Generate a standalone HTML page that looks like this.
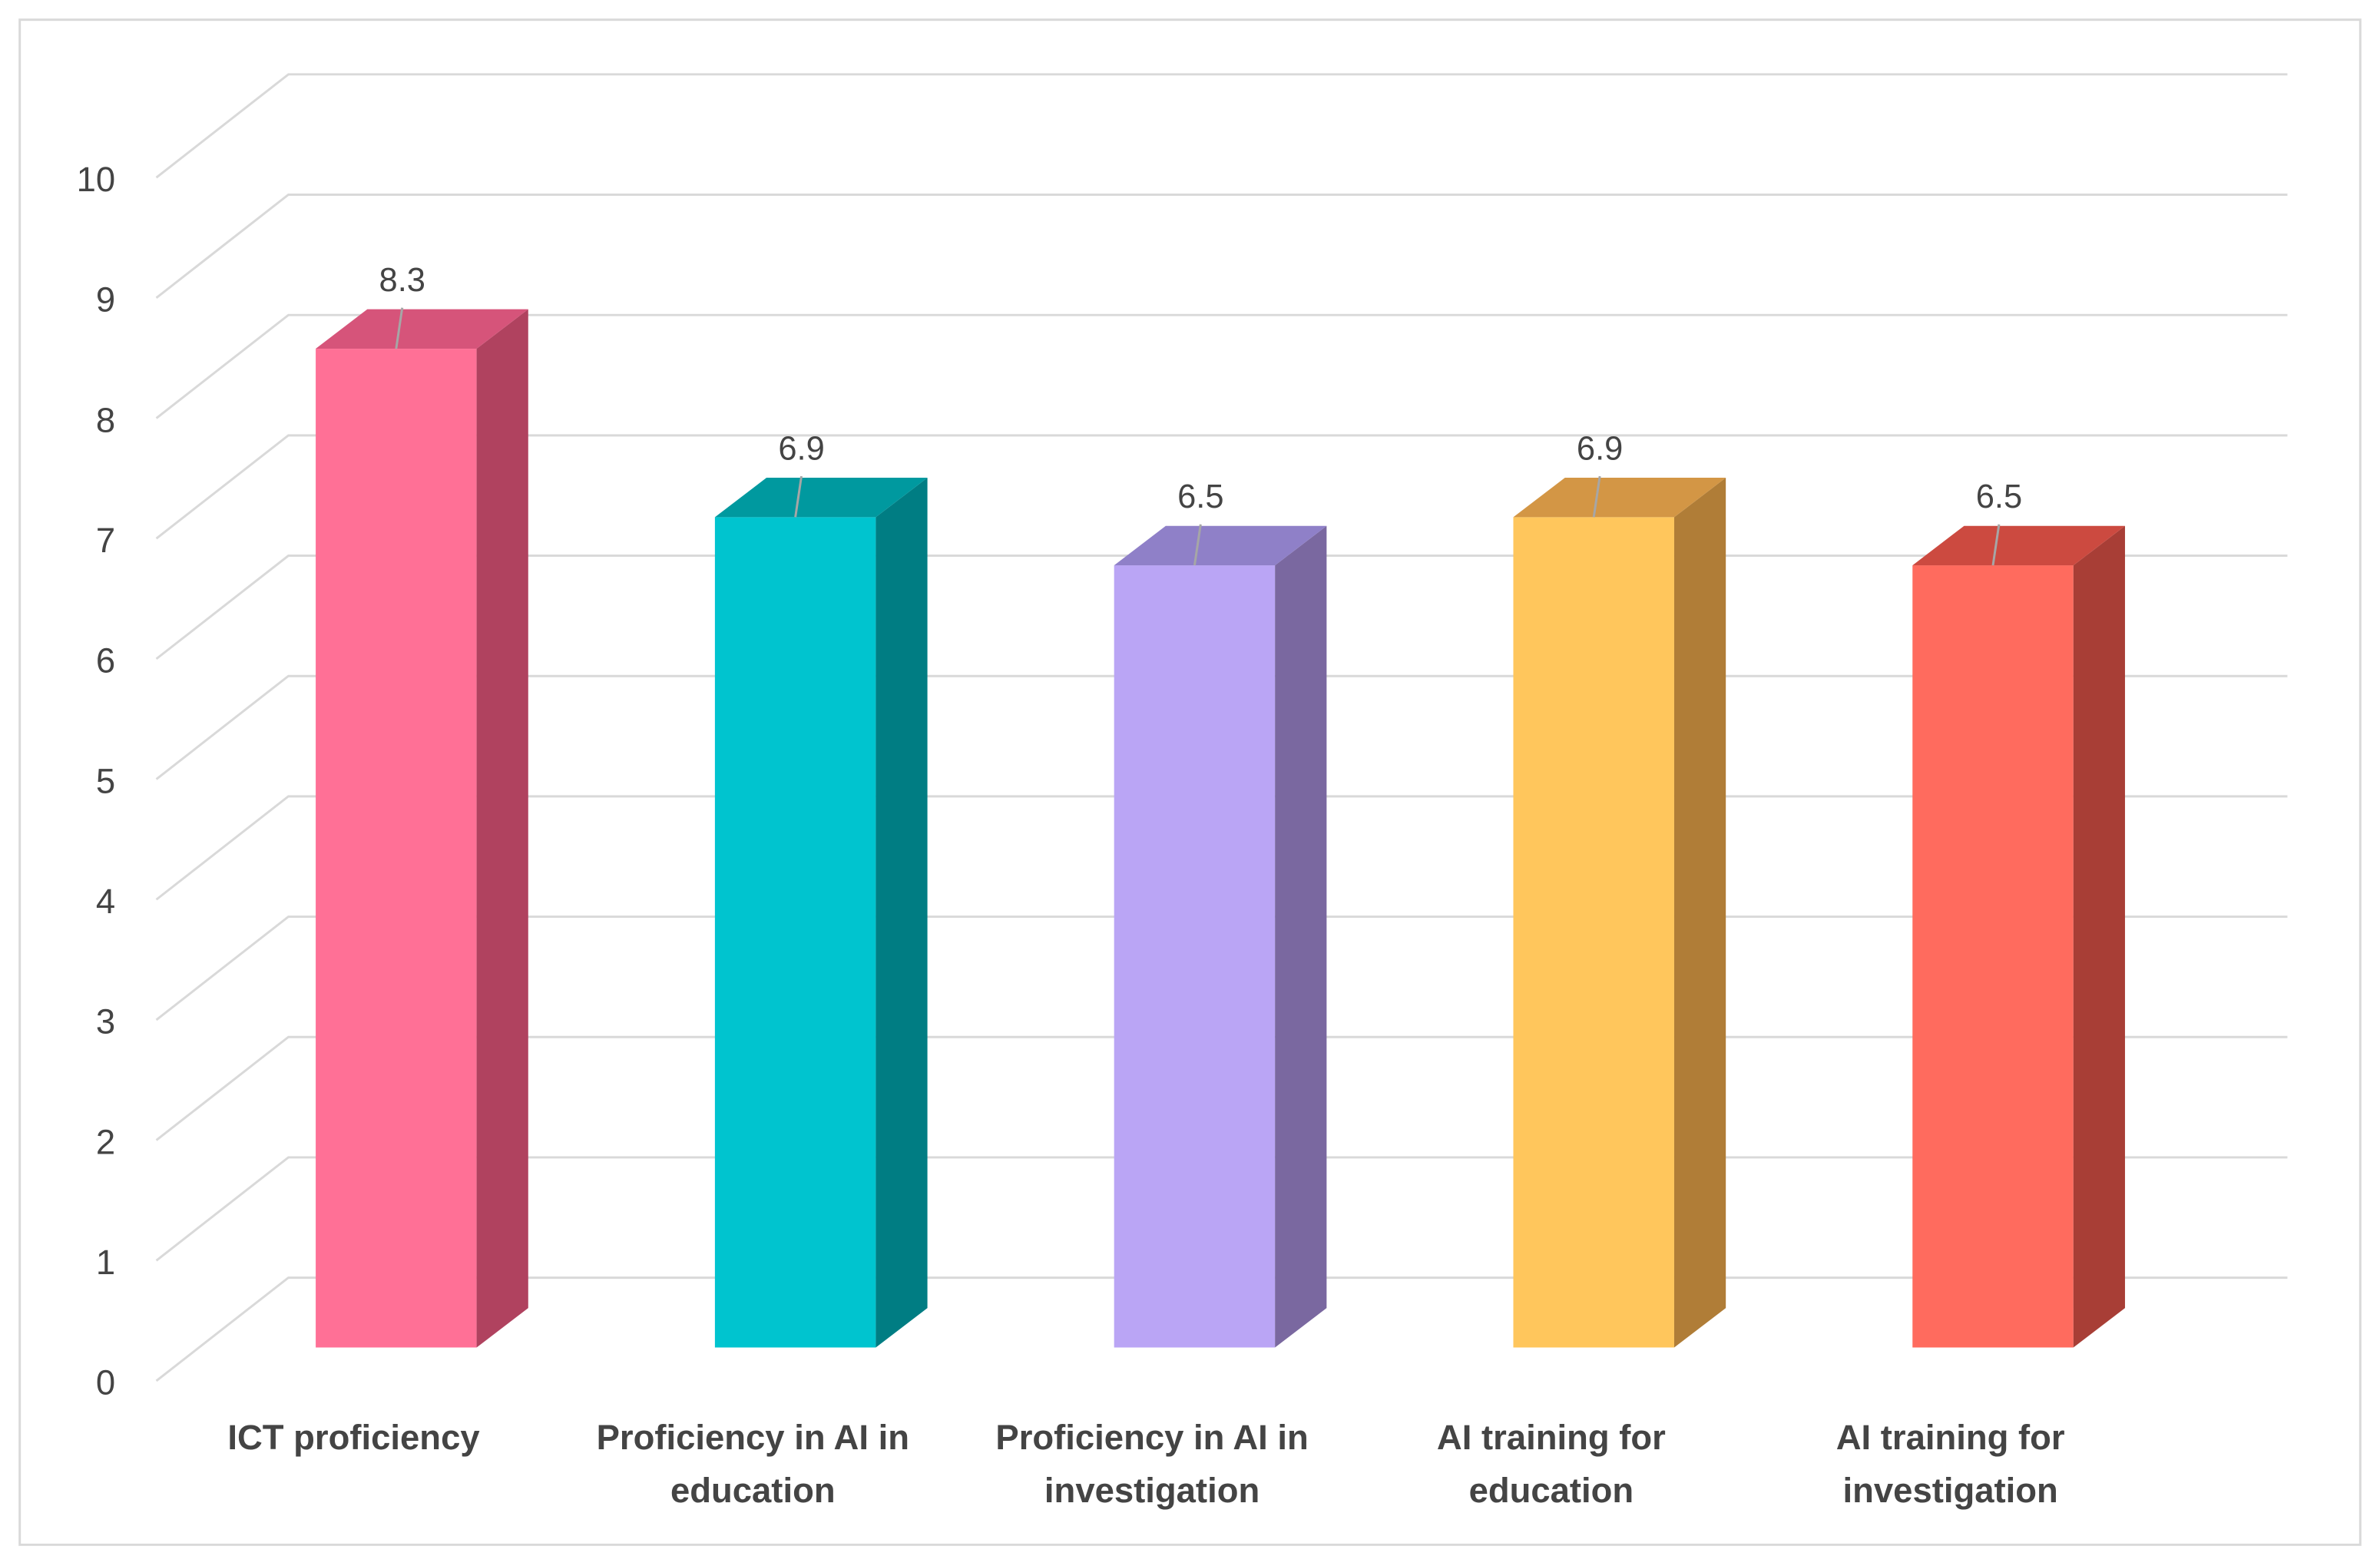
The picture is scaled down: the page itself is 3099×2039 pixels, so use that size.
<!DOCTYPE html>
<html><head><meta charset="utf-8"><style>
html,body{margin:0;padding:0;background:#fff;}
svg{display:block;}
text{font-family:"Liberation Sans",sans-serif;fill:#444;}
</style></head><body>
<svg id="chart" width="3099" height="2039" viewBox="0 0 1568 1032" preserveAspectRatio="none" xmlns="http://www.w3.org/2000/svg">
<rect x="13" y="13" width="1542" height="1005" fill="#fff" stroke="#d9d9d9" stroke-width="1.5"/>
<g id="grid"></g><g id="bars"></g><g id="labels"></g>
</svg>
<script>
const categories = [["ICT proficiency"],["Proficiency in AI in","education"],["Proficiency in AI in","investigation"],["AI training for","education"],["AI training for","investigation"]];
const values = [8.3, 6.9, 6.5, 6.9, 6.5];
const valueLabels = ["8.3","6.9","6.5","6.9","6.5"];
const ticks = [0,1,2,3,4,5,6,7,8,9,10];
const frontColors = ["#FF7096","#00C4CF","#BAA5F5","#FFC65C","#FF6B5E"];
const topColors = ["#D6547A","#00999F","#8F80C8","#D39645","#CC4A40"];
const sideColors = ["#B0425F","#007D83","#7A68A0","#B07D37","#A83E36"];

const NS="http://www.w3.org/2000/svg";
const unit=79.3;
const yBack=v=>842-v*unit;
const yBarFront=v=>888-v*unit;
const xBar=i=>208+i*263;
const bw=106, dx=34, dy=26;
function mk(tag,attrs,parent){const e=document.createElementNS(NS,tag);for(const k in attrs)e.setAttribute(k,attrs[k]);document.getElementById(parent).appendChild(e);return e;}
ticks.forEach(t=>{
  const y=yBack(t);
  const g=mk('polyline',{points:`103,${y+68} 190,${y} 1507,${y}`,fill:'none',stroke:'#d9d9d9','stroke-width':1.5},'grid');
  
  
  const tx=mk('text',{x:76,y:y+68+9,'text-anchor':'end','font-size':23},'labels');
  tx.textContent=t;
  
  
});
values.forEach((v,i)=>{
  const x=xBar(i), yt=yBarFront(v), yb=yBarFront(0);
  const f=mk('rect',{x:x,y:yt,width:bw,height:yb-yt,fill:frontColors[i]},'bars');
  
  
  const s=mk('polygon',{points:`${x+bw},${yt} ${x+bw+dx},${yt-dy} ${x+bw+dx},${yb-dy} ${x+bw},${yb}`,fill:sideColors[i]},'bars');
  
  
  const tp=mk('polygon',{points:`${x},${yt} ${x+dx},${yt-dy} ${x+bw+dx},${yt-dy} ${x+bw},${yt}`,fill:topColors[i]},'bars');
  
  
  const ld=mk('line',{x1:x+57,y1:yt-27,x2:x+53,y2:yt,stroke:'#a6a6a6','stroke-width':1.5},'bars');
  
  
  const vl=mk('text',{x:x+57,y:yt-38,'text-anchor':'middle','font-size':22},'labels');
  vl.textContent=valueLabels[i];
  
  
  categories[i].forEach((line,j)=>{
    const c=mk('text',{x:x+25,y:955+j*35,'text-anchor':'middle','font-size':23,'font-weight':'bold'},'labels');
    c.textContent=line;
    
    
  });
});
</script>
</body></html>
